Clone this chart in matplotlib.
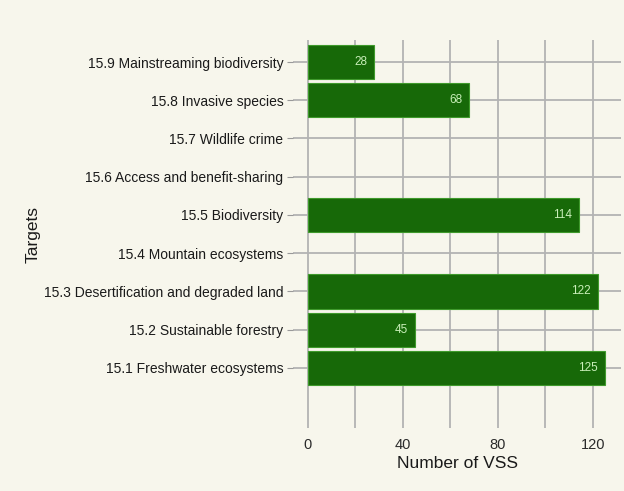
import matplotlib.pyplot as plt
from matplotlib.ticker import MultipleLocator

targets = [
    '15.1 Freshwater ecosystems',
    '15.2 Sustainable forestry',
    '15.3 Desertification and degraded land',
    '15.4 Mountain ecosystems',
    '15.5 Biodiversity',
    '15.6 Access and benefit-sharing',
    '15.7 Wildlife crime',
    '15.8 Invasive species',
    '15.9 Mainstreaming biodiversity',
]
nb_vss = [125, 45, 122, 0, 114, 0, 0, 68, 28]

fond = '#f7f6ec'
plt.rcParams['font.family'] = ['Liberation Sans', 'DejaVu Sans']

fig = plt.figure(figsize=(6.24, 4.91), dpi=100, facecolor=fond)
ax = fig.add_axes([0.4696, 0.1283, 0.5256, 0.7902], facecolor=fond)

positions = list(range(len(targets)))
# pas de bordure pour les barres vides
bords = [0.8 if v > 0 else 0 for v in nb_vss]
ax.barh(positions, nb_vss, height=0.9, color='#176908',
        edgecolor='#3f9a2c', linewidth=bords, zorder=3)

# valeurs dans les barres
for pos, val in zip(positions, nb_vss):
    if val > 0:
        ax.text(val - 3, pos, str(val), ha='right', va='center',
                fontsize=8.5, color='#c9efb9', zorder=4)

ax.set_xlim(-6.25, 131.8)
ax.set_ylim(-1.57, 8.575)
ax.set_yticks(positions)
ax.set_yticklabels(targets, fontsize=10, color='#1a1a1a')
ax.xaxis.set_major_locator(MultipleLocator(40))
ax.xaxis.set_minor_locator(MultipleLocator(20))
ax.tick_params(axis='x', which='both', length=0, labelsize=10.5,
               labelcolor='#2a2a2a', pad=7)
ax.tick_params(axis='y', length=4, color='#999999', pad=3)

ax.grid(which='both', color='#b3b3b3', linewidth=1.3, zorder=0)
for s in ax.spines.values():
    s.set_visible(False)

ax.set_xlabel('Number of VSS', fontsize=12.5, color='#1a1a1a', labelpad=3)
ax.set_ylabel('Targets', fontsize=12.5, color='#1a1a1a')
ax.yaxis.set_label_coords(-0.77, 0.5)

fig.savefig('out.png', dpi=100, facecolor=fond)
